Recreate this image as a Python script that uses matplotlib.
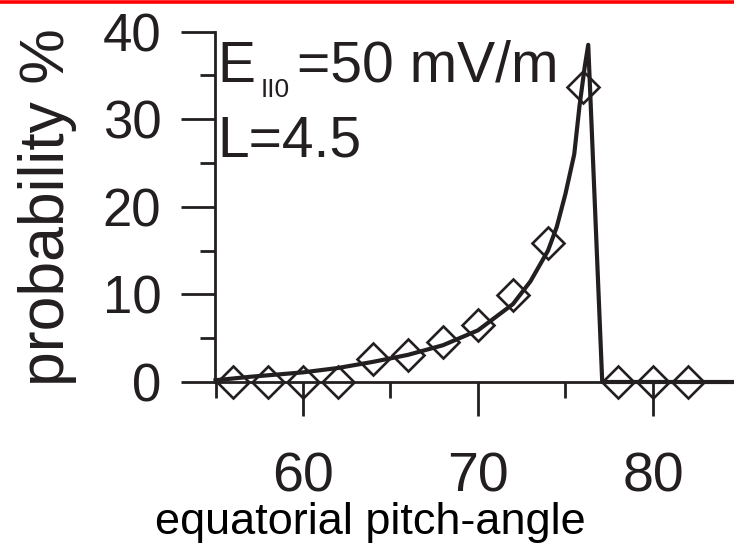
import matplotlib
matplotlib.use('Agg')
import matplotlib.pyplot as plt
from matplotlib.lines import Line2D

# data
angle_pts = [56, 58, 60, 62, 64, 66, 68, 70, 72, 74, 76, 78, 80, 82]
prob_pts = [0, 0, 0, 0, 2.6, 3.1, 4.6, 6.5, 9.9, 15.9, 33.7, 0, 0, 0]

angle_fit = [55, 57, 60, 62, 64, 66, 68, 70, 72, 73, 74, 74.5, 75, 75.5, 75.8, 76.1, 76.3, 77.1, 85]
prob_fit = [0.2, 0.6, 1.1, 1.6, 2.3, 3.1, 4.2, 5.9, 8.9, 11.5, 15.0, 17.7, 21.5, 26.0, 31.5, 36.0, 38.5, 0, 0]

xticks_major = [60, 70, 80]
xticks_minor = [55, 65, 75]
yticks_major = [0, 10, 20, 30, 40]
yticks_minor = [5, 15, 25, 35]

ink = '#231f20'
plt.rcParams['font.family'] = ['Liberation Sans', 'DejaVu Sans']

W, H = 734, 543
fig = plt.figure(figsize=(W / 100, H / 100), dpi=100)


def px(x, y):
    '''pixel (from top-left) -> figure fraction'''
    return x / W, 1 - y / H


# axes box in pixels: left spine x=215.5, y=0 at 382, y=40 at 31.7
ax = fig.add_axes([215.5 / W, (H - 382) / H, (W - 215.5) / W, 350.3 / H])
ax.set_xlim(55, 84.63)
ax.set_ylim(0, 40)

ax.plot(angle_fit, prob_fit, color=ink, lw=3.0, clip_on=False, zorder=3)
ax.plot(angle_pts, prob_pts, ls='none', marker='D', ms=16.5, mfc='none',
        mec=ink, mew=1.9, clip_on=False, zorder=4)

for s in ['top', 'right']:
    ax.spines[s].set_visible(False)
for s in ['left', 'bottom']:
    ax.spines[s].set_linewidth(2.0)
    ax.spines[s].set_color(ink)

ax.set_xticks(xticks_major)
ax.set_xticks(xticks_minor, minor=True)
ax.set_yticks(yticks_major)
ax.set_yticks(yticks_minor, minor=True)

ax.tick_params(axis='both', which='both', direction='out', color=ink, width=2.0)
ax.tick_params(axis='y', which='major', length=24.5, pad=14.5, labelsize=38, labelcolor=ink)
ax.tick_params(axis='y', which='minor', length=10.5)
ax.tick_params(axis='x', which='major', length=24.5, pad=25.5, labelsize=40, labelcolor=ink)
ax.tick_params(axis='x', which='minor', length=11.5)

fig.text(*px(370, 502), 'equatorial pitch-angle', fontsize=32.5, color='black',
         ha='center', va='top')
fig.text(*px(47.5, 207.5), 'probability %', fontsize=45, color=ink,
         rotation=90, ha='center', va='center')

fig.text(*px(217.3, 81.7), 'E', fontsize=41, color=ink, va='baseline', ha='left')
fig.text(*px(261, 97), 'II0', fontsize=19, color=ink, va='baseline', ha='left')
fig.text(*px(297, 81.7), '=50 mV/m', fontsize=41, color=ink, va='baseline', ha='left')
fig.text(*px(217.3, 156.7), 'L=4.5', fontsize=41, color=ink, va='baseline', ha='left')

# red rule along the top edge
fig.add_artist(Line2D([0, 1], [1 - 1.7 / H, 1 - 1.7 / H], color='red', lw=2.6,
                      transform=fig.transFigure))

fig.savefig('out.png', dpi=100)
